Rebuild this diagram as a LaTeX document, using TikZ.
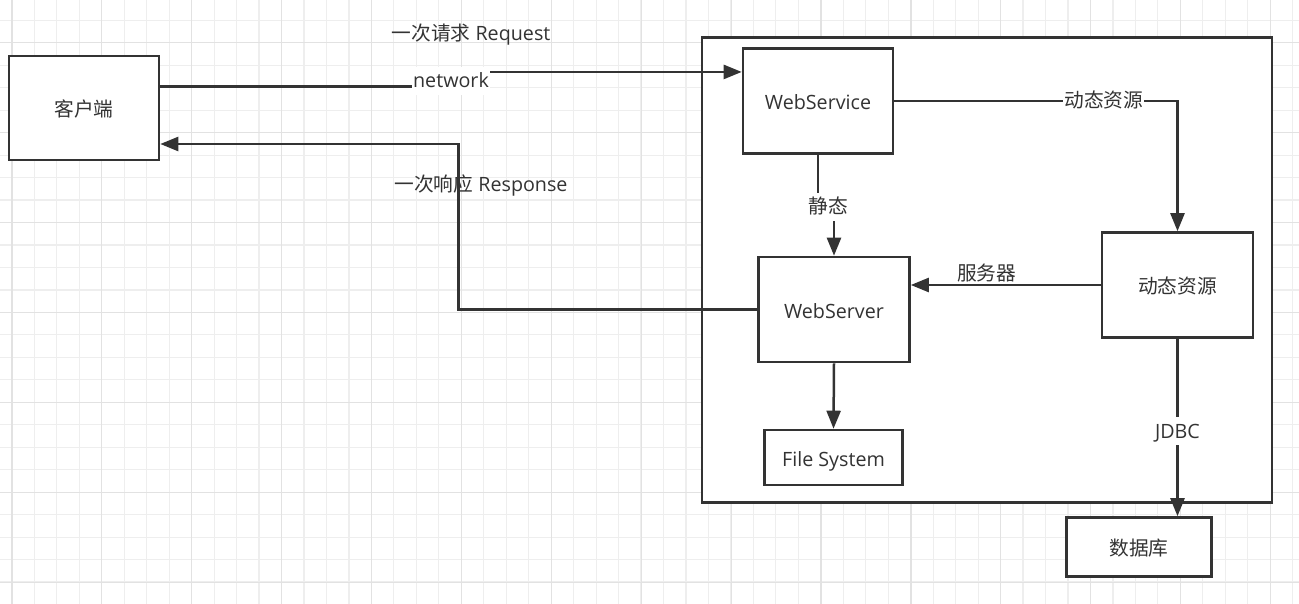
\documentclass[tikz,border=0pt]{standalone}
\usepackage{fontspec}
\setmainfont{Open Sans}
\newfontfamily\cjk{Noto Sans CJK SC}
\usetikzlibrary{calc,arrows.meta}
\definecolor{ink}{HTML}{333333}
\definecolor{gridminor}{HTML}{EEEEEE}
\definecolor{gridmajor}{HTML}{E2E2E2}
\tikzset{
	box/.style={draw=ink,line width=2.6pt,fill=white,inner sep=0pt,text height=19pt,text depth=2pt},%
	servframe/.style={draw=ink,line width=2.6pt,fill=white},%
	conn/.style={draw=ink,line width=2.5pt,-{Triangle[length=18pt,width=14pt]}},%
	lbl/.style={fill=white,inner xsep=1pt,inner ysep=4pt,text height=17pt,text depth=3pt},%
	freetext/.style={inner sep=0pt},%
	gridline/.style={line width=1.2pt},%
}
\def\gridstep{22.47}
\def\majorstep{89.9}

\begin{document}
\begin{tikzpicture}[x=1pt,y=-1pt,text=ink,font=\fontsize{19.7}{24}\selectfont]
		\useasboundingbox (0,0) rectangle (1299,604);
		% Grid {{{
		\fill[white] (0,0) rectangle (1299,604);
		\foreach \i in {0,...,57} \draw[gridline,gridminor] (11.9+\i*\gridstep,0) -- (11.9+\i*\gridstep,604);
		\foreach \j in {-1,...,26} \draw[gridline,gridminor] (0,20.3+\j*\gridstep) -- (1299,20.3+\j*\gridstep);
		\foreach \i in {0,...,14} \draw[gridline,gridmajor] (11.9+\i*\majorstep,0) -- (11.9+\i*\majorstep,604);
		\foreach \j in {0,...,6} \draw[gridline,gridmajor] (0,42.8+\j*\majorstep) -- (1299,42.8+\j*\majorstep);
		% }}}
		% Boxes {{{
		\node[servframe,minimum width=570pt,minimum height=465pt] (server) at (987,270) {};
		\node[box,minimum width=150pt,minimum height=104pt] (client) at (84,108) {\cjk 客户端};
		\node[box,minimum width=150pt,minimum height=105pt] (webservice) at (818,101) {WebService};
		\node[box,minimum width=151pt,minimum height=105pt] (webserver) at (834,309.5) {WebServer};
		\node[box,minimum width=151pt,minimum height=105pt] (dyn) at (1177.5,285) {\cjk 动态资源};
		\node[box,minimum width=138pt,minimum height=55pt] (filesys) at (833.5,457.5) {File System};
		\node[box,minimum width=145pt,minimum height=59pt] (db) at (1139,547) {\cjk 数据库};
		% }}}
		% Request / response {{{
		\coordinate (netbend) at (451,80);
		\coordinate (respbend) at (458.5,144);
		\draw[conn] ($(client.north east)!0.3!(client.south east)$) -| (netbend) |- ($(webservice.north west)!0.23!(webservice.south west)$);
		\node[lbl] (network) at (451,81) {network};
		\node[freetext] (reqtext) at (471,35) {{\cjk 一次请求} Request};
		\draw[conn] (webserver.west) -| (respbend) -- (client.east |- respbend);
		\node[freetext] (resptext) at (481,186) {{\cjk 一次响应} Response};
		% }}}
		% Inside the server {{{
		\coordinate (statbend) at (826,200);
		\draw[conn] (webservice.south) |- (statbend) -| (webserver.north);
		\node[lbl] (statlbl) at (828,207) {\cjk 静态};
		\draw[conn] (webservice.east) -| node[lbl,pos=0.37] (dynlbl) {\cjk 动态资源} (dyn.north);
		\draw[conn] (dyn.west) -- (dyn.west -| webserver.east) node[freetext,pos=0.6,above=2pt] (srvlbl) {\cjk 服务器};
		\draw[conn] (webserver.south) -- (filesys.north);
		\draw[conn] (dyn.south) -- (dyn.south |- db.north) node[lbl,pos=0.52] (jdbclbl) {JDBC};
		% }}}
	\end{tikzpicture}
\end{document}
